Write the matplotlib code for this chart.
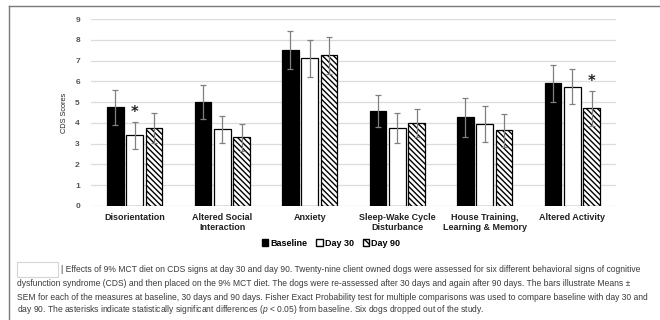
import numpy as np
import matplotlib
matplotlib.use("Agg")
import matplotlib.pyplot as plt
from matplotlib.patches import Patch, Rectangle
from matplotlib.lines import Line2D

# Дані
categories = ["Disorientation", "Altered Social\nInteraction", "Anxiety",
              "Sleep-Wake Cycle\nDisturbance", "House Training,\nLearning & Memory",
              "Altered Activity"]
baseline = [4.75, 5.0, 7.5, 4.57, 4.26, 5.9]
baseline_err = [0.83, 0.8, 0.9, 0.77, 0.92, 0.88]
day30 = [3.4, 3.7, 7.1, 3.75, 3.95, 5.75]
day30_err = [0.65, 0.65, 0.9, 0.74, 0.87, 0.82]
day90 = [3.75, 3.3, 7.25, 3.99, 3.65, 4.7]
day90_err = [0.72, 0.65, 0.9, 0.66, 0.8, 0.83]
# (група, серія) з зірочкою
significant = [(0, 1), (5, 2)]

caption_lines = [
    "| Effects of 9% MCT diet on CDS signs at day 30 and day 90. Twenty-nine client owned dogs were assessed for six different behavioral signs of cognitive",
    "dysfunction syndrome (CDS) and then placed on the 9% MCT diet. The dogs were re-assessed after 30 days and again after 90 days. The bars illustrate Means \u00b1",
    "SEM for each of the measures at baseline, 30 days and 90 days. Fisher Exact Probability test for multiple comparisons was used to compare baseline with day 30 and",
    "day 90. The asterisks indicate statistically significant differences ($\\it{p}$ < 0.05) from baseline. Six dogs dropped out of the study.",
]

plt.rcParams['mathtext.fontset'] = 'custom'
plt.rcParams['mathtext.it'] = 'Liberation Sans:italic'
plt.rcParams['mathtext.rm'] = 'Liberation Sans'
plt.rcParams['hatch.linewidth'] = 1.0

W, H = 660, 320
fig = plt.figure(figsize=(6.6, 3.2), dpi=100)


def fx(x):
    return x / W


def fy(y):
    return 1 - y / H


ax = fig.add_axes([fx(91), fy(206), fx(616) - fx(91), fy(19) - fy(206)])

x = np.arange(len(categories))
bw = 0.19
step = 0.222
series = [(baseline, baseline_err, 'black', ''),
          (day30, day30_err, 'white', ''),
          (day90, day90_err, 'white', '\\\\\\\\\\\\')]

tops = []
for i, (vals, errs, fc, hatch) in enumerate(series):
    pos = x + (i - 1) * step
    ax.bar(pos, vals, bw, color=fc, edgecolor='black', linewidth=0.9, hatch=hatch, zorder=3)
    ax.errorbar(pos, vals, yerr=errs, fmt='none', ecolor='#808080', elinewidth=0.9,
                capsize=2, capthick=0.9, zorder=4)
    tops.append((pos, np.array(vals) + np.array(errs)))

for g, s in significant:
    pos, top = tops[s]
    ax.text(pos[g], top[g] + 0.1, "*", ha='center', va='bottom', fontsize=10.5,
            fontweight='bold', color='#222222', family='DejaVu Sans')

ax.set_xlim(-0.5, 5.5)
ax.set_ylim(0, 9)
ax.set_yticks(range(10))
ax.yaxis.grid(True, color='#dcdcdc', linewidth=0.9, zorder=0)
ax.set_axisbelow(True)
for sp in ax.spines.values():
    sp.set_visible(False)
ax.tick_params(axis='both', length=0)
ax.tick_params(axis='y', pad=8, labelsize=6, labelcolor='#555555')
ax.tick_params(axis='x', pad=5, labelsize=6.5, labelcolor='#222222')
ax.set_xticks(x)
ax.set_xticklabels(categories, fontweight='bold', family='Liberation Sans')
for lab in ax.get_yticklabels():
    lab.set_fontweight('bold')
    lab.set_family('Liberation Sans')
ax.set_ylabel("CDS Scores", fontsize=5.3, family='Liberation Sans', color='#222222', labelpad=5)

handles = [Patch(facecolor='black', edgecolor='black', label='Baseline'),
           Patch(facecolor='white', edgecolor='black', label='Day 30'),
           Patch(facecolor='white', edgecolor='black', hatch='\\\\\\\\', label='Day 90')]
fig.legend(handles=handles, loc='center', bbox_to_anchor=(fx(331), fy(243)),
           bbox_transform=fig.transFigure, ncol=3, frameon=False,
           handlelength=0.7, handleheight=0.7, handletextpad=0.25, columnspacing=1.0,
           prop={'family': 'Liberation Sans', 'weight': 'bold', 'size': 6.5})

# Рамка зліва і зверху
fig.add_artist(Line2D([fx(9), fx(9)], [fy(6), 0], color='#7a7a7a', linewidth=1.0))
fig.add_artist(Line2D([fx(9), 1], [fy(6), fy(6)], color='#7a7a7a', linewidth=1.0))

# Порожня рамка-заглушка перед підписом
fig.add_artist(Rectangle((fx(17), fy(277)), fx(58) - fx(17), fy(262) - fy(277),
                         transform=fig.transFigure, facecolor='white',
                         edgecolor='#d5d5d5', linewidth=0.8))

cap_y = [270, 283.5, 297, 310]
cap_x = [61, 17, 17, 17]
cap_texts = []
for t, cx, cy in zip(caption_lines, cap_x, cap_y):
    cap_texts.append(fig.text(fx(cx), fy(cy), t, ha='left', va='center', fontsize=6.0,
                              family='Liberation Sans', color='#3a3a3a'))

# Підбір розміру шрифту: найдовший рядок має вміститися до правого краю
renderer = fig.canvas.get_renderer()
widths = [tx.get_window_extent(renderer).width + cx for tx, cx in zip(cap_texts, cap_x)]
scale = (W - 4) / max(widths)
for tx in cap_texts:
    tx.set_fontsize(6.0 * scale)

fig.savefig("out.png", dpi=100)
